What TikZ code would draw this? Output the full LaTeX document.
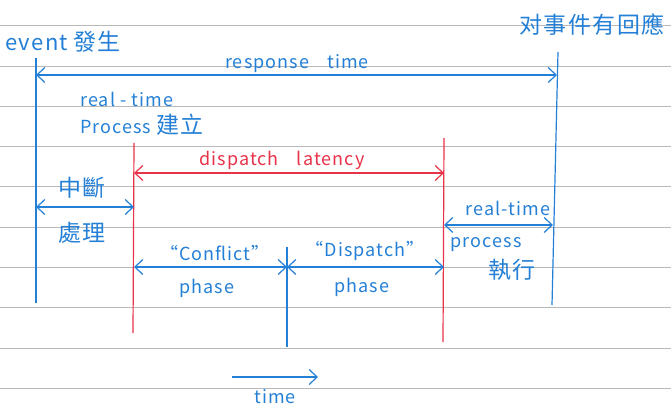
\documentclass[tikz,border=0pt]{standalone}
\usepackage{fontspec}
\setmainfont{Noto Sans CJK TC}[LetterSpace=6]
\usetikzlibrary{arrows.meta}
\definecolor{bluepen}{RGB}{36,128,214}
\definecolor{redpen}{RGB}{232,50,72}
\definecolor{ruling}{RGB}{185,185,185}
\newcommand{\zh}[1]{{\fontsize{23}{26}\selectfont #1}}

\begin{document}
\begin{tikzpicture}[x=1pt, y=-1pt, font=\fontsize{18}{21}\selectfont,
    rule/.style={ruling, line width=0.9pt},
    bl/.style={bluepen, line width=1.2pt},
    rd/.style={redpen, line width=1.2pt},
    both/.style={arrows={Straight Barb[length=8pt,width=15pt]-Straight Barb[length=8pt,width=15pt]}},
    fwd/.style={-{Straight Barb[length=8pt,width=15pt]}},
    btxt/.style={text=bluepen, inner sep=0pt},
    rtxt/.style={text=redpen, inner sep=0pt}]

        \useasboundingbox (0,0) rectangle (671,411);
        \fill[white] (0,0) rectangle (671,411);
        \foreach \y in {25,66,106,146,186,227,267,307,348,388}
            \draw[rule] (0,\y) -- (671,\y);

        \coordinate (evtop) at (36,58);
        \coordinate (evbot) at (36,303);
        \coordinate (rstop) at (558,52);
        \coordinate (rsbot) at (552,305);
        \coordinate (dltop) at (134,143);
        \coordinate (dlbot) at (133,333);
        \coordinate (drtop) at (444,138);
        \coordinate (drbot) at (443,342);
        \coordinate (midtop) at (287,247);
        \coordinate (midbot) at (287,347);

        \draw[bl] (evtop) -- (evbot);
        \draw[bl] (rstop) -- (rsbot);
        \draw[rd] (dltop) -- (dlbot);
        \draw[rd] (drtop) -- (drbot);
        \draw[bl] (midtop) -- (midbot);

        \coordinate (respL) at (36,75);
        \coordinate (respR) at (557,75);
        \coordinate (latL) at (134,173);
        \coordinate (latR) at (444,173);
        \coordinate (intL) at (36,207);
        \coordinate (intR) at (134,207);
        \coordinate (confL) at (134,267);
        \coordinate (confR) at (287,267);
        \coordinate (dispR) at (444,267);
        \coordinate (runL) at (444,225);
        \coordinate (runR) at (553,225);
        \coordinate (timeL) at (232,377);
        \coordinate (timeR) at (318,377);

        \draw[bl, both] (respL) -- (respR);
        \draw[rd, both] (latL) -- (latR);
        \draw[bl, both] (intL) -- (intR);
        \draw[bl, both] (confL) -- (confR);
        \draw[bl, both] (confR) -- (dispR);
        \draw[bl, both] (runL) -- (runR);
        \draw[bl, fwd] (timeL) -- (timeR);

        \node[btxt, anchor=west] (event) at (5,42) {{\fontsize{22}{26}\selectfont event} \zh{發生}};
        \node[btxt] (reply) at (592,25) {\zh{对事件有回應}};
        \node[btxt] (response) at (297,64) {response\quad time};
        \node[btxt, anchor=west] (rt) at (80,99) {real - time};
        \node[btxt, anchor=west] (create) at (80,125) {Process \zh{建立}};
        \node[rtxt] (latency) at (282,160) {dispatch\quad latency};
        \node[btxt] (intr) at (82,188) {\zh{中斷}};
        \node[btxt] (handle) at (82,233) {\zh{處理}};
        \node[btxt] (conflict) at (215,253) {“Conflict”};
        \node[btxt] (cphase) at (207,288) {phase};
        \node[btxt] (dispatch) at (365,251) {“Dispatch”};
        \node[btxt] (dphase) at (362,287) {phase};
        \node[btxt] (rtrun) at (508,208) {real-time};
        \node[btxt] (proc) at (486,245) {process};
        \node[btxt] (exec) at (512,270) {\zh{執行}};
        \node[btxt] (time) at (275,397) {time};

\end{tikzpicture}
\end{document}
